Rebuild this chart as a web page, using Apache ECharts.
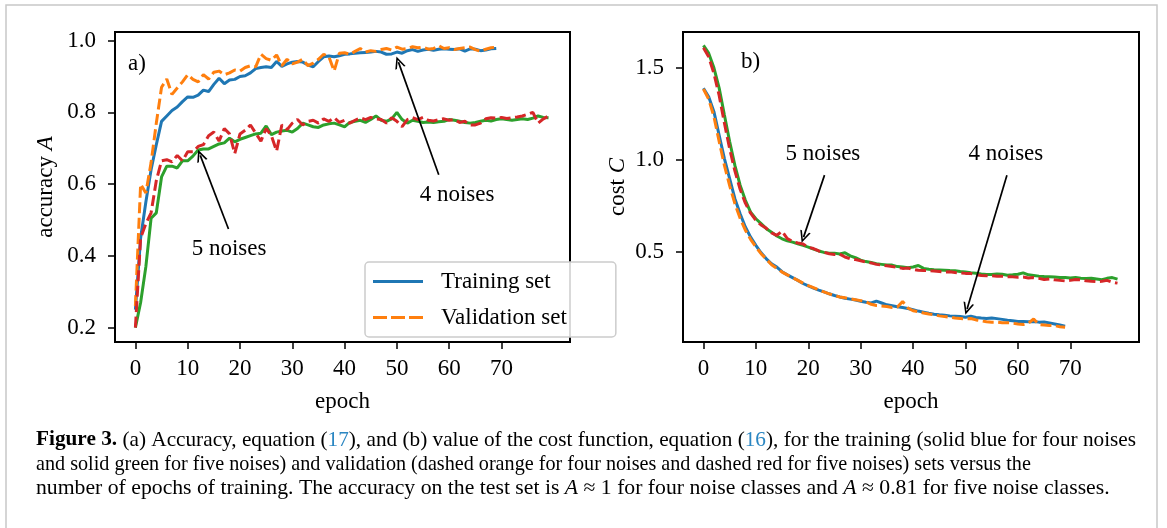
<!DOCTYPE html>
<html lang="en">
<head>
<meta charset="UTF-8">
<title>Figure 3</title>
<script src="https://cdn.jsdelivr.net/npm/echarts@6/dist/echarts.min.js"></script>
<style>
  html, body { margin: 0; padding: 0; background: #fff; }
  #chart { width: 1167px; height: 528px; }
</style>
</head>
<body>
<div id="chart"></div>
<script>
// tick labels
var epochTicks = [0, 10, 20, 30, 40, 50, 60, 70];
var accTicks = [0.2, 0.4, 0.6, 0.8, 1.0];
var costTicks = [0.5, 1.0, 1.5];

// (a) accuracy, 4 noises (epochs 0..69)
var acc4Train = [0.25, 0.45, 0.55, 0.64, 0.71, 0.775, 0.79, 0.805, 0.815, 0.83,
  0.843, 0.842, 0.848, 0.862, 0.858, 0.878, 0.895, 0.88, 0.89, 0.892,
  0.9, 0.902, 0.91, 0.922, 0.925, 0.927, 0.925, 0.942, 0.928, 0.935,
  0.94, 0.942, 0.94, 0.932, 0.927, 0.942, 0.955, 0.957, 0.955, 0.958,
  0.962, 0.963, 0.965, 0.966, 0.967, 0.968, 0.97, 0.968, 0.962, 0.963,
  0.968, 0.965, 0.972, 0.975, 0.97, 0.974, 0.976, 0.973, 0.976, 0.977,
  0.976, 0.975, 0.977, 0.971, 0.977, 0.976, 0.972, 0.974, 0.977, 0.978];
var acc4Val = [0.26, 0.6, 0.575, 0.66, 0.77, 0.87, 0.893, 0.85, 0.868, 0.885,
  0.905, 0.892, 0.885, 0.905, 0.893, 0.912, 0.915, 0.905, 0.91, 0.918,
  0.915, 0.925, 0.93, 0.927, 0.962, 0.95, 0.945, 0.96, 0.93, 0.948,
  0.935, 0.94, 0.948, 0.93, 0.937, 0.948, 0.962, 0.955, 0.915, 0.965,
  0.966, 0.962, 0.97, 0.978, 0.968, 0.972, 0.97, 0.975, 0.978, 0.974,
  0.982, 0.976, 0.978, 0.983, 0.98, 0.982, 0.976, 0.978, 0.986, 0.978,
  0.98, 0.975, 0.978, 0.98, 0.982, 0.975, 0.97, 0.976, 0.98, 0.982];
// (a) accuracy, 5 noises (epochs 0..79)
var acc5Train = [0.2, 0.27, 0.37, 0.505, 0.52, 0.62, 0.65, 0.65, 0.645, 0.665,
  0.665, 0.678, 0.695, 0.698, 0.698, 0.705, 0.712, 0.715, 0.728, 0.718,
  0.725, 0.73, 0.735, 0.74, 0.742, 0.762, 0.738, 0.745, 0.748, 0.75,
  0.745, 0.755, 0.77, 0.765, 0.76, 0.758, 0.765, 0.768, 0.77, 0.765,
  0.76, 0.772, 0.775, 0.778, 0.772, 0.78, 0.79, 0.778, 0.775, 0.782,
  0.8, 0.78, 0.77, 0.778, 0.775, 0.772, 0.773, 0.772, 0.774, 0.775,
  0.78, 0.778, 0.775, 0.772, 0.77, 0.772, 0.775, 0.778, 0.776, 0.78,
  0.782, 0.78, 0.778, 0.78, 0.782, 0.78, 0.784, 0.79, 0.786, 0.785];
var acc5Val = [0.2, 0.45, 0.49, 0.52, 0.61, 0.665, 0.668, 0.662, 0.68, 0.665,
  0.69, 0.69, 0.705, 0.71, 0.735, 0.745, 0.72, 0.755, 0.74, 0.685,
  0.74, 0.75, 0.765, 0.742, 0.72, 0.755, 0.735, 0.692, 0.765, 0.752,
  0.77, 0.78, 0.765, 0.775, 0.778, 0.77, 0.782, 0.775, 0.785, 0.772,
  0.778, 0.77, 0.778, 0.785, 0.78, 0.786, 0.782, 0.78, 0.77, 0.785,
  0.775, 0.76, 0.78, 0.785, 0.78, 0.786, 0.778, 0.776, 0.78, 0.782,
  0.778, 0.78, 0.772, 0.775, 0.765, 0.765, 0.77, 0.782, 0.785, 0.784,
  0.786, 0.783, 0.785, 0.787, 0.79, 0.795, 0.8, 0.77, 0.782, 0.79];

// (b) cost, 4 noises (epochs 0..69)
var cost4Train = [1.389, 1.343, 1.262, 1.134, 1.007, 0.898, 0.789, 0.707, 0.635, 0.58,
  0.535, 0.495, 0.462, 0.435, 0.417, 0.392, 0.375, 0.36, 0.345, 0.328,
  0.315, 0.303, 0.292, 0.282, 0.272, 0.263, 0.255, 0.248, 0.243, 0.238,
  0.232, 0.226, 0.222, 0.232, 0.222, 0.212, 0.207, 0.202, 0.197, 0.192,
  0.185, 0.178, 0.172, 0.166, 0.161, 0.158, 0.156, 0.152, 0.15, 0.148,
  0.145, 0.15, 0.143, 0.14, 0.138, 0.141, 0.137, 0.133, 0.128, 0.125,
  0.122, 0.121, 0.12, 0.122, 0.118, 0.119, 0.114, 0.108, 0.102, 0.096];
var cost4Val = [1.385, 1.33, 1.235, 1.1, 0.97, 0.86, 0.762, 0.682, 0.618, 0.568,
  0.527, 0.49, 0.46, 0.43, 0.41, 0.39, 0.375, 0.36, 0.345, 0.33,
  0.317, 0.305, 0.293, 0.282, 0.272, 0.262, 0.255, 0.25, 0.245, 0.24,
  0.235, 0.228, 0.215, 0.208, 0.206, 0.203, 0.198, 0.2, 0.23, 0.195,
  0.18, 0.175, 0.168, 0.162, 0.158, 0.152, 0.148, 0.145, 0.14, 0.138,
  0.136, 0.138, 0.13, 0.125, 0.12, 0.118, 0.118, 0.115, 0.115, 0.112,
  0.108, 0.105, 0.112, 0.135, 0.105, 0.103, 0.1, 0.099, 0.093, 0.09];
// (b) cost, 5 noises (epochs 0..79)
var cost5Train = [1.622, 1.58, 1.5, 1.39, 1.244, 1.1, 0.97, 0.862, 0.78, 0.716,
  0.68, 0.653, 0.626, 0.607, 0.586, 0.571, 0.56, 0.553, 0.544, 0.535,
  0.526, 0.515, 0.505, 0.497, 0.493, 0.493, 0.488, 0.495, 0.478, 0.468,
  0.455, 0.447, 0.442, 0.436, 0.432, 0.428, 0.428, 0.42, 0.418, 0.414,
  0.418, 0.426, 0.41, 0.405, 0.403, 0.402, 0.4, 0.398, 0.397, 0.393,
  0.39, 0.386, 0.384, 0.38, 0.377, 0.377, 0.38, 0.378, 0.373, 0.375,
  0.378, 0.386, 0.375, 0.372, 0.368, 0.366, 0.365, 0.363, 0.36, 0.36,
  0.358, 0.36, 0.357, 0.355, 0.356, 0.352, 0.348, 0.356, 0.36, 0.352];
var cost5Val = [1.61, 1.56, 1.47, 1.35, 1.2, 1.06, 0.94, 0.84, 0.765, 0.71,
  0.672, 0.646, 0.628, 0.603, 0.59, 0.612, 0.572, 0.557, 0.548, 0.543,
  0.525, 0.518, 0.505, 0.498, 0.49, 0.486, 0.488, 0.472, 0.462, 0.458,
  0.452, 0.444, 0.44, 0.432, 0.428, 0.425, 0.42, 0.417, 0.41, 0.412,
  0.405, 0.4, 0.398, 0.398, 0.396, 0.393, 0.39, 0.392, 0.388, 0.385,
  0.383, 0.382, 0.376, 0.372, 0.37, 0.37, 0.368, 0.368, 0.365, 0.364,
  0.362, 0.363, 0.358, 0.36, 0.356, 0.35, 0.353, 0.348, 0.345, 0.342,
  0.345, 0.35, 0.348, 0.343, 0.34, 0.338, 0.34, 0.345, 0.335, 0.33];

var FONT = "'Liberation Serif', 'DejaVu Serif', serif";
var BLUE = '#1f77b4', ORANGE = '#ff7f0e', GREEN = '#2ca02c', RED = '#d62728';
// open arrow head, tip at top
var ARROW = 'path://M5,0 L10,10 L8.4,10 L5,3.2 L1.6,10 L0,10 Z';
// legend samples: a solid bar and a dashed bar
var ICON_SOLID = 'path://M0,0 H50 V3 H0 Z';
var ICON_DASHED = 'path://M0,0 H14 V3 H0 Z M18,0 H32 V3 H18 Z M36,0 H50 V3 H36 Z';

function pairs(arr) {
  return arr.map(function (v, i) { return [i, v]; });
}

function lineSeries(name, data, color, dashed, grid) {
  return {
    name: name,
    type: 'line',
    xAxisIndex: grid,
    yAxisIndex: grid,
    data: pairs(data),
    symbol: 'none',
    silent: true,
    lineStyle: { color: color, width: 3, type: dashed ? [11, 4.5] : 'solid' },
    itemStyle: { color: color }
  };
}

// arrow + text note, in data coords
function note(text, textAt, from, to) {
  return {
    markLine: {
      silent: true,
      symbol: ['none', ARROW],
      symbolSize: [11, 12],
      label: { show: false },
      lineStyle: { color: '#000', width: 1.7, type: 'solid' },
      itemStyle: { color: '#000' },
      data: [[{ coord: from }, { coord: to }]]
    },
    markPoint: {
      silent: true,
      symbol: 'rect',
      symbolSize: 1,
      itemStyle: { color: 'rgba(0,0,0,0)' },
      label: {
        show: true, position: 'inside', formatter: '{b}',
        color: '#000', fontSize: 23, fontFamily: FONT
      },
      data: [{ name: text, coord: textAt }]
    }
  };
}

function xAxisOf(grid) {
  return {
    gridIndex: grid, type: 'value', min: -3.9, max: 83.1,
    axisLine: { show: true, onZero: false, lineStyle: { color: '#000', width: 2 } },
    axisTick: { show: true, length: 7, customValues: epochTicks, lineStyle: { color: '#000', width: 1.5 } },
    axisLabel: { customValues: epochTicks, margin: 15, color: '#000', fontSize: 23, fontFamily: FONT },
    splitLine: { show: false },
    name: 'epoch', nameLocation: 'middle', nameGap: 48,
    nameTextStyle: { color: '#000', fontSize: 23, fontFamily: FONT }
  };
}

function yAxisOf(grid, min, max, ticks, name, gap) {
  return {
    gridIndex: grid, type: 'value', min: min, max: max,
    axisLine: { show: true, onZero: false, lineStyle: { color: '#000', width: 2 } },
    axisTick: { show: true, length: 7, customValues: ticks, lineStyle: { color: '#000', width: 1.5 } },
    axisLabel: {
      customValues: ticks, margin: 19, color: '#000', fontSize: 23, fontFamily: FONT,
      formatter: function (v) { return v.toFixed(1); }
    },
    splitLine: { show: false },
    name: name, nameLocation: 'middle', nameGap: gap,
    nameTextStyle: {
      color: '#000', fontSize: 23, fontFamily: FONT,
      rich: { i: { fontStyle: 'italic', fontSize: 23, fontFamily: FONT, color: '#000' } }
    }
  };
}

var sA1 = lineSeries('Training set', acc4Train, BLUE, false, 0);
var sA2 = lineSeries('Validation set', acc4Val, ORANGE, true, 0);
var sA3 = lineSeries('Training set, 5 noises', acc5Train, GREEN, false, 0);
var sA4 = lineSeries('Validation set, 5 noises', acc5Val, RED, true, 0);
var sB1 = lineSeries('Training set', cost4Train, BLUE, false, 1);
var sB2 = lineSeries('Validation set', cost4Val, ORANGE, true, 1);
var sB3 = lineSeries('Training set, 5 noises', cost5Train, GREEN, false, 1);
var sB4 = lineSeries('Validation set, 5 noises', cost5Val, RED, true, 1);

Object.assign(sA1, note('4 noises', [61.5, 0.57], [58, 0.626], [50.3, 0.94]));
Object.assign(sA3, note('5 noises', [17.9, 0.419], [17.8, 0.475], [12.4, 0.68]));
Object.assign(sB1, note('4 noises', [57.7, 1.034], [57.9, 0.917], [50.3, 0.19]));
Object.assign(sB3, note('5 noises', [22.8, 1.034], [23.1, 0.917], [19.1, 0.58]));

var caption = [
  '{b|Figure 3.} (a) Accuracy, equation ({l|17}), and (b) value of the cost function, equation ({l|16}), for the training (solid blue for four noises',
  'and solid green for five noises) and validation (dashed orange for four noises and dashed red for five noises) sets versus the',
  'number of epochs of training. The accuracy on the test set is {i|A} \u2248 1 for four noise classes and {i|A} \u2248 0.81 for five noise classes.'
];
// horizontal squeeze per line so each line ends where the original does
var captionScale = [1.012, 0.96, 1.034];
var CAP = 21;
var capRich = {
  b: { fontWeight: 'bold', fontSize: CAP, fontFamily: FONT, fill: '#000' },
  l: { fontSize: CAP, fontFamily: FONT, fill: '#2a86c2' },
  i: { fontStyle: 'italic', fontSize: CAP, fontFamily: FONT, fill: '#000' }
};

function captionLine(i) {
  return {
    type: 'text', silent: true, x: 36, y: 440 + i * 24, scaleX: captionScale[i],
    style: {
      text: caption[i], fontSize: CAP, fontFamily: FONT, fill: '#000',
      verticalAlign: 'middle', rich: capRich
    }
  };
}

var chart = echarts.init(document.getElementById('chart'), null, { renderer: 'canvas' });
chart.setOption({
  animation: false,
  backgroundColor: '#fff',
  grid: [
    { left: 115, top: 32, width: 455, height: 310, show: true, borderColor: '#000', borderWidth: 2, backgroundColor: 'transparent' },
    { left: 683, top: 32, width: 456, height: 310, show: true, borderColor: '#000', borderWidth: 2, backgroundColor: 'transparent' }
  ],
  xAxis: [xAxisOf(0), xAxisOf(1)],
  yAxis: [
    yAxisOf(0, 0.16, 1.024, accTicks, 'accuracy {i|A}', 58),
    yAxisOf(1, 0.01, 1.695, costTicks, 'cost {i|C}', 54)
  ],
  legend: {
    data: [
      { name: 'Training set', icon: ICON_SOLID },
      { name: 'Validation set', icon: ICON_DASHED }
    ],
    orient: 'vertical', left: 365, top: 262,
    padding: [8, 49, 8, 8], itemGap: 13, itemWidth: 50, itemHeight: 21,
    backgroundColor: 'rgba(255,255,255,0.85)', borderColor: '#cccccc', borderWidth: 1.5, borderRadius: 4,
    selectedMode: false,
    textStyle: { color: '#000', fontSize: 23, fontFamily: FONT, padding: [0, 0, 0, 13] }
  },
  graphic: [
    { type: 'rect', silent: true, z: -1, shape: { x: 6, y: 5, width: 1151, height: 600 },
      style: { fill: 'none', stroke: '#c8c8c8', lineWidth: 1.5 } },
    { type: 'text', silent: true, left: 128, top: 52, style: { text: 'a)', fontSize: 23, fontFamily: FONT, fill: '#000' } },
    { type: 'text', silent: true, left: 741, top: 50, style: { text: 'b)', fontSize: 23, fontFamily: FONT, fill: '#000' } },
    captionLine(0), captionLine(1), captionLine(2)
  ],
  series: [sA1, sA2, sA3, sA4, sB1, sB2, sB3, sB4]
});
</script>
</body>
</html>
